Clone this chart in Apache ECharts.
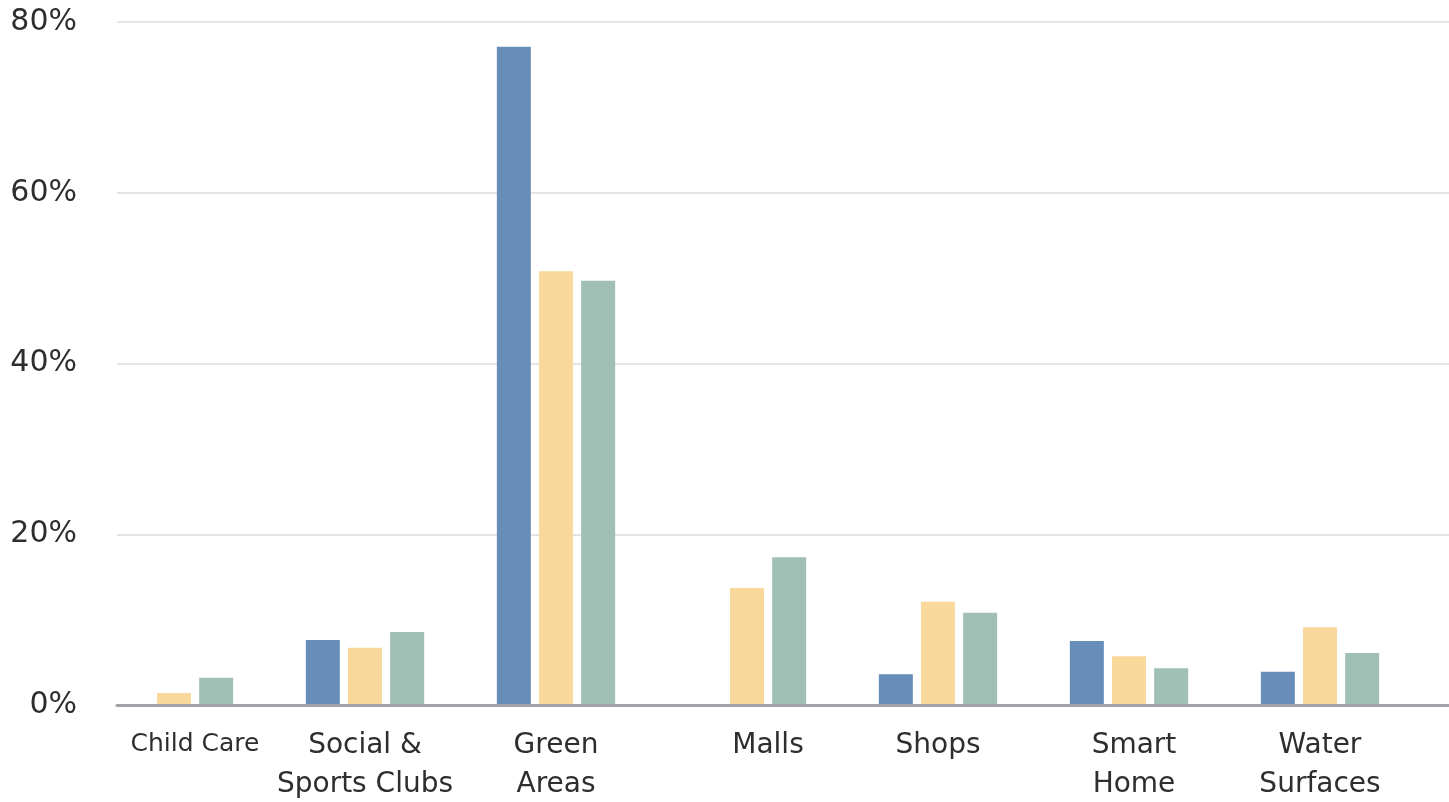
<!DOCTYPE html>
<html>
<head>
<meta charset="utf-8">
<script src="https://cdn.jsdelivr.net/npm/echarts@6/dist/echarts.min.js"></script>
<style>html,body{margin:0;padding:0;background:#fff;}#c{width:1449px;height:802px;}</style>
</head>
<body>
<div id="c"></div>
<script>
var categories = ['Child Care', 'Social &\nSports Clubs', 'Green\nAreas', 'Malls', 'Shops', 'Smart\nHome', 'Water\nSurfaces'];
var seriesBlue = [0, 7.6, 77.1, 0, 3.6, 7.5, 3.9];
var seriesYellow = [1.4, 6.7, 50.8, 13.7, 12.1, 5.7, 9.1];
var seriesTeal = [3.2, 8.55, 49.7, 17.3, 10.8, 4.3, 6.1];
var yTicks = [0, 20, 40, 60, 80];

var labelStyle = ['cc', 'n', 'n', 'sh', 'n', 'sm', 'n'];

var chart = echarts.init(document.getElementById('c'));
var font = '"DejaVu Sans", sans-serif';
var txt = '#2e2e2e';
chart.setOption({
  animation: false,
  backgroundColor: '#fff',
  grid: [
    { left: 117, right: 0, top: 22, bottom: 97 },
    { left: 78.5, right: 33.5, top: 22, bottom: 97 }
  ],
  xAxis: [
    { type: 'category', gridIndex: 0, data: categories,
      axisLine: { show: true, lineStyle: { color: '#a3a2a8', width: 3 } },
      axisTick: { show: false }, axisLabel: { show: false }, z: 5 },
    { type: 'category', gridIndex: 1, data: categories,
      axisLine: { show: false }, axisTick: { show: false },
      axisLabel: {
        margin: 21, interval: 0,
        formatter: function (v, i) {
          var s = labelStyle[i];
          return v.split('\n').map(function (p) { return '{' + s + '|' + p + '}'; }).join('\n');
        },
        rich: {
          n: { fontFamily: font, color: txt, fontSize: 28, lineHeight: 39 },
          cc: { fontFamily: font, color: txt, fontSize: 25, lineHeight: 36, padding: [0, 0, 0, 42] },
          sh: { fontFamily: font, color: txt, fontSize: 28, lineHeight: 39, padding: [0, 0, 0, 42] },
          sm: { fontFamily: font, color: txt, fontSize: 28, lineHeight: 39, padding: [0, 0, 0, 10] }
        }
      } }
  ],
  yAxis: [
    { type: 'value', gridIndex: 0, min: yTicks[0], max: yTicks[yTicks.length - 1], interval: 20,
      axisLine: { show: false }, axisTick: { show: false },
      splitLine: { lineStyle: { color: '#dcdcdc', width: 1.5 } },
      axisLabel: { formatter: '{value}%', margin: 40, fontSize: 30, fontFamily: font, color: txt } },
    { type: 'value', gridIndex: 1, min: 0, max: 80, interval: 20, show: false }
  ],
  series: [
    { type: 'bar', xAxisIndex: 1, yAxisIndex: 1, data: seriesBlue, barWidth: 34, barGap: '24%', itemStyle: { color: '#678db9' }, z: 3 },
    { type: 'bar', xAxisIndex: 1, yAxisIndex: 1, data: seriesYellow, barWidth: 34, barGap: '24%', itemStyle: { color: '#f8d89b' }, z: 3 },
    { type: 'bar', xAxisIndex: 1, yAxisIndex: 1, data: seriesTeal, barWidth: 34, barGap: '24%', itemStyle: { color: '#a0bfb5' }, z: 3 }
  ]
});
</script>
</body>
</html>
